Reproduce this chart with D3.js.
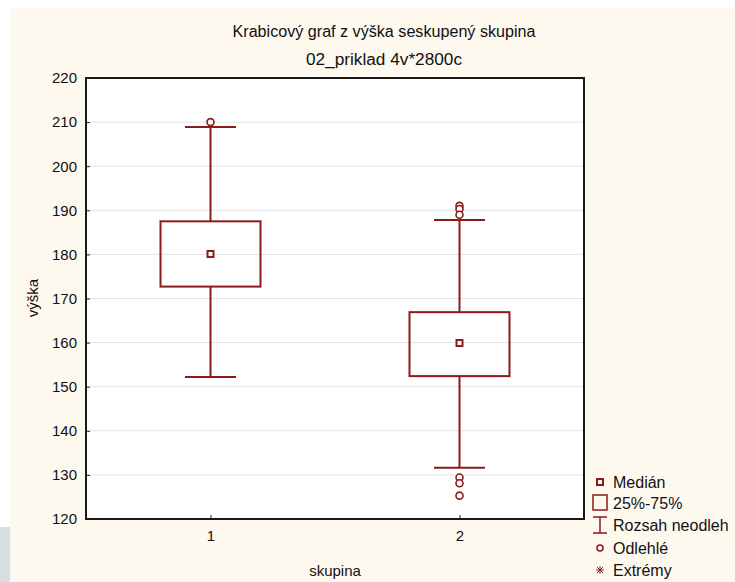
<!DOCTYPE html>
<html><head><meta charset="utf-8">
<script src="https://cdn.jsdelivr.net/npm/d3@7"></script>
<style>body{margin:0;background:#fff}svg{display:block}text{font-family:"Liberation Sans",Arial,sans-serif}</style>
</head><body>
<script>
const categories = ["1", "2"];
const q1 = [172.7, 152.4];
const medians = [180.1, 159.9];
const q3 = [187.5, 166.9];
const whiskerLow = [152.2, 131.6];
const whiskerHigh = [208.9, 187.8];
const outliers = [[210.0], [191.0, 190.3, 189.0, 129.4, 128.1, 125.3]];
const yTicks = [120, 130, 140, 150, 160, 170, 180, 190, 200, 210, 220];
const legendLabels = ["Medián", "25%-75%", "Rozsah neodleh", "Odlehlé", "Extrémy"];

const W = 735, H = 582, red = "#8b1a1a";
const m = {l: 86, t: 78, r: 584, b: 519};
const svg = d3.select("body").append("svg").attr("width", W).attr("height", H);
svg.append("rect").attr("x", 10).attr("y", 8).attr("width", W - 10).attr("height", H - 8).attr("fill", "#fdf9ef");
svg.append("rect").attr("x", 0).attr("y", 527).attr("width", 10).attr("height", H - 527).attr("fill", "#d5dfe0");

const x = d3.scalePoint().domain(categories).range([m.l, m.r]).padding(0.5);
const y = d3.scaleLinear().domain([120, 220]).range([m.b, m.t]);

svg.append("rect").attr("x", m.l).attr("y", m.t).attr("width", m.r - m.l).attr("height", m.b - m.t).attr("fill", "#fff");
// grid
svg.append("g").selectAll("line").data(yTicks.slice(1, -1)).join("line")
  .attr("x1", m.l).attr("x2", m.r).attr("y1", d => y(d)).attr("y2", d => y(d))
  .attr("stroke", "#e3e3e3").attr("stroke-width", 1);

// axes
const ya = svg.append("g").attr("transform", `translate(${m.l},0)`)
  .call(d3.axisLeft(y).tickValues(yTicks).tickSize(-4).tickPadding(9));
const xa = svg.append("g").attr("transform", `translate(0,${m.b})`)
  .call(d3.axisBottom(x).tickSize(-4).tickPadding(11));
[ya, xa].forEach(a => {
  a.select(".domain").remove();
  a.selectAll("line").attr("stroke", "#222");
  a.selectAll("text").attr("font-size", 15).attr("fill", "#111").attr("font-family", "'Liberation Sans',Arial,sans-serif");
});

svg.append("rect").attr("x", m.l).attr("y", m.t).attr("width", m.r - m.l).attr("height", m.b - m.t)
  .attr("fill", "none").attr("stroke", "#1a1a1a").attr("stroke-width", 2);

// boxes
const bw = 100, cw = 51;
const g = svg.append("g").attr("stroke", red).attr("fill", "none").attr("stroke-width", 2);
categories.forEach((c, i) => {
  const cx = x(c);
  g.append("line").attr("x1", cx).attr("x2", cx).attr("y1", y(whiskerHigh[i])).attr("y2", y(q3[i]));
  g.append("line").attr("x1", cx).attr("x2", cx).attr("y1", y(q1[i])).attr("y2", y(whiskerLow[i]));
  g.append("line").attr("x1", cx - cw / 2).attr("x2", cx + cw / 2).attr("y1", y(whiskerHigh[i])).attr("y2", y(whiskerHigh[i]));
  g.append("line").attr("x1", cx - cw / 2).attr("x2", cx + cw / 2).attr("y1", y(whiskerLow[i])).attr("y2", y(whiskerLow[i]));
  g.append("rect").attr("x", cx - bw / 2).attr("y", y(q3[i])).attr("width", bw).attr("height", y(q1[i]) - y(q3[i]));
  g.append("rect").attr("x", cx - 3).attr("y", y(medians[i]) - 3).attr("width", 6).attr("height", 6).attr("fill", "#fff");
  outliers[i].forEach(o => {
    g.append("circle").attr("cx", cx).attr("cy", y(o)).attr("r", 3.5).attr("fill", "#fff").attr("stroke-width", 1.6);
  });
});

// titles
svg.append("text").attr("x", 384).attr("y", 37).attr("text-anchor", "middle").attr("font-size", 16)
  .attr("textLength", 303).attr("lengthAdjust", "spacingAndGlyphs")
  .attr("fill", "#111").text("Krabicový graf z výška seskupený skupina");
svg.append("text").attr("x", 384).attr("y", 65).attr("text-anchor", "middle").attr("font-size", 16)
  .attr("textLength", 156).attr("lengthAdjust", "spacingAndGlyphs")
  .attr("fill", "#111").text("02_priklad 4v*2800c");
svg.append("text").attr("transform", "translate(38,298) rotate(-90)").attr("text-anchor", "middle")
  .attr("font-size", 15).attr("fill", "#111").text("výška");
svg.append("text").attr("x", 335).attr("y", 576).attr("text-anchor", "middle")
  .attr("font-size", 15).attr("fill", "#111").text("skupina");

// legend
const lx = 600, ly = [482, 503, 525, 548, 570];
const lg = svg.append("g").attr("stroke", red).attr("fill", "none");
lg.append("rect").attr("x", lx - 3).attr("y", ly[0] - 3).attr("width", 6).attr("height", 6).attr("stroke-width", 2);
lg.append("rect").attr("x", lx - 7).attr("y", ly[1] - 8).attr("width", 14).attr("height", 15).attr("stroke-width", 1.5);
lg.append("path").attr("d", `M${lx - 7},${ly[2] - 8}H${lx + 7}M${lx},${ly[2] - 8}V${ly[2] + 8}M${lx - 7},${ly[2] + 8}H${lx + 7}`).attr("stroke-width", 1.5);
lg.append("circle").attr("cx", lx).attr("cy", ly[3]).attr("r", 3).attr("stroke-width", 1.6);
lg.append("path").attr("d", `M${lx - 4},${ly[4]}H${lx + 4}M${lx},${ly[4] - 4}V${ly[4] + 4}M${lx - 3},${ly[4] - 3}L${lx + 3},${ly[4] + 3}M${lx - 3},${ly[4] + 3}L${lx + 3},${ly[4] - 3}`).attr("stroke-width", 1);
svg.append("g").selectAll("text").data(legendLabels).join("text")
  .attr("x", lx + 13).attr("y", (d, i) => ly[i] + 6).attr("font-size", 16).attr("fill", "#111").text(d => d);
</script>
</body></html>
